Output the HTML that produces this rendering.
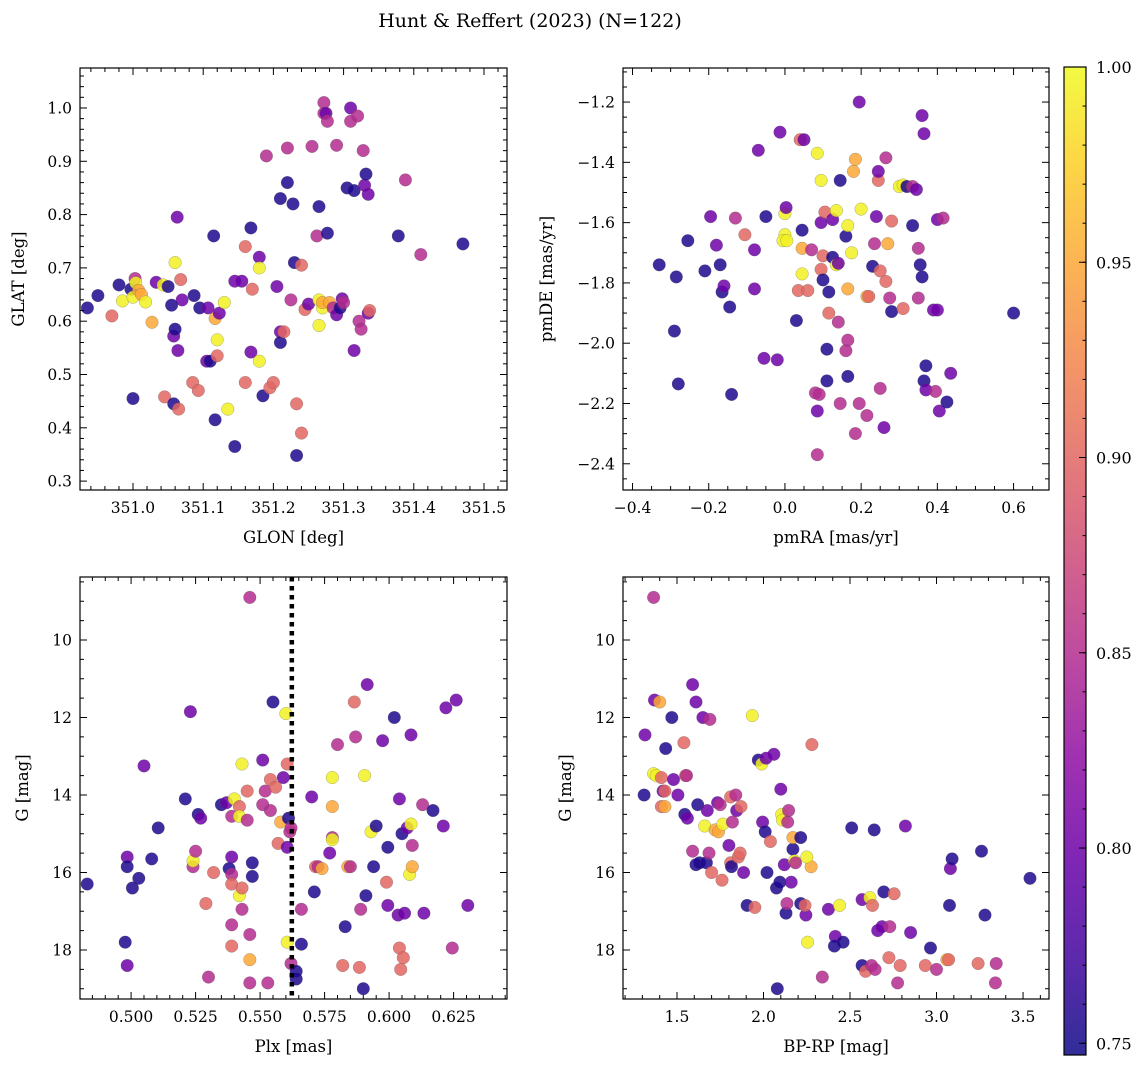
<!DOCTYPE html>
<html><head><meta charset="utf-8">
<style>
html,body{margin:0;padding:0;background:#fff;}
svg{display:block;font-family:"DejaVu Serif","Liberation Serif",serif;}
</style></head>
<body>
<svg id="fig" width="1148" height="1067" viewBox="0 0 1148 1067" xmlns="http://www.w3.org/2000/svg">
<defs>
<linearGradient id="plasma" x1="0" y1="1" x2="0" y2="0">
<stop offset="0" stop-color="#0d0887"/><stop offset="0.1" stop-color="#41049d"/><stop offset="0.2" stop-color="#6a00a8"/><stop offset="0.3" stop-color="#8f0da4"/><stop offset="0.4" stop-color="#b12a90"/><stop offset="0.5" stop-color="#cc4778"/><stop offset="0.6" stop-color="#e16462"/><stop offset="0.7" stop-color="#f2844b"/><stop offset="0.8" stop-color="#fca636"/><stop offset="0.9" stop-color="#fcce25"/><stop offset="1" stop-color="#f0f921"/>
</linearGradient>
</defs>
<text x="530" y="27" font-size="19" text-anchor="middle">Hunt &amp; Reffert (2023) (N=122)</text>
</svg>
<script>
// probability codes: 0.755 dark, 0.80 purple, 0.85 magenta, 0.90 salmon, 0.95 orange, 0.995 yellow
const D=0.755,P=0.80,M=0.85,S=0.90,O=0.95,Y=0.995;
const probMin=0.747, probMax=1.0;
const cbarTicks=[0.75,0.80,0.85,0.90,0.95,1.00];

const skyPoints=[[350.935,.625,D],[350.95,.648,D],[350.97,.61,S],[350.98,.668,D],[350.985,.638,Y],[350.997,.66,D],[351.0,.645,Y],[351.0,.455,D],[351.003,.68,M],[351.004,.672,Y],[351.008,.658,O],[351.012,.65,O],[351.018,.636,Y],[351.027,.598,O],[351.033,.673,P],[351.043,.668,Y],[351.05,.665,D],[351.058,.572,P],[351.06,.71,Y],[351.068,.678,S],[351.07,.64,P],[351.063,.795,P],[351.055,.63,D],[351.06,.585,D],[351.064,.545,P],[351.045,.458,S],[351.058,.445,D],[351.065,.435,S],[351.085,.485,S],[351.093,.47,S],[351.087,.648,D],[351.095,.625,D],[351.105,.525,P],[351.11,.525,D],[351.107,.625,P],[351.115,.76,D],[351.117,.605,O],[351.12,.565,Y],[351.12,.535,S],[351.123,.615,P],[351.13,.635,Y],[351.117,.415,D],[351.135,.435,Y],[351.145,.365,D],[351.145,.675,P],[351.155,.675,P],[351.16,.74,S],[351.16,.485,S],[351.168,.542,P],[351.168,.775,D],[351.17,.66,S],[351.18,.72,P],[351.18,.70,Y],[351.18,.525,Y],[351.185,.46,D],[351.19,.91,M],[351.195,.475,S],[351.2,.485,S],[351.205,.665,P],[351.21,.58,P],[351.21,.56,D],[351.21,.83,D],[351.215,.58,S],[351.22,.925,M],[351.22,.86,D],[351.225,.64,M],[351.228,.82,D],[351.23,.71,D],[351.233,.445,S],[351.233,.348,D],[351.24,.705,S],[351.24,.39,S],[351.245,.622,S],[351.25,.632,P],[351.255,.928,M],[351.262,.76,M],[351.265,.815,D],[351.265,.64,Y],[351.27,.625,Y],[351.27,.635,O],[351.265,.592,Y],[351.272,1.01,M],[351.272,.99,M],[351.275,.99,P],[351.277,.975,M],[351.277,.765,D],[351.28,.635,O],[351.285,.625,M],[351.29,.612,P],[351.29,.93,M],[351.295,.625,D],[351.298,.642,P],[351.3,.635,M],[351.305,.85,D],[351.31,1.0,P],[351.31,.975,M],[351.315,.845,D],[351.315,.545,P],[351.32,.985,M],[351.322,.60,M],[351.325,.585,M],[351.328,.92,M],[351.33,.855,P],[351.332,.876,D],[351.335,.838,P],[351.335,.615,P],[351.337,.62,S],[351.388,.865,M],[351.378,.76,D],[351.41,.725,M],[351.47,.745,D]];

const pmPoints=[[-0.33,-1.74,D],[-0.285,-1.78,D],[-0.29,-1.96,D],[-0.28,-2.135,D],[-0.255,-1.66,D],[-0.21,-1.76,D],[-0.195,-1.58,P],[-0.18,-1.675,P],[-0.17,-1.74,D],[-0.165,-1.83,D],[-0.16,-1.81,P],[-0.145,-1.88,D],[-0.14,-2.17,D],[-0.13,-1.585,M],[-0.105,-1.64,S],[-0.08,-1.69,P],[-0.08,-1.82,P],[-0.07,-1.36,P],[-0.055,-2.05,P],[-0.05,-1.58,D],[-0.02,-2.055,P],[-0.013,-1.30,P],[0.0,-1.64,Y],[0.0,-1.57,Y],[-0.005,-1.66,Y],[0.005,-1.66,Y],[0.003,-1.55,P],[0.03,-1.925,D],[0.035,-1.825,S],[0.04,-1.325,S],[0.045,-1.77,Y],[0.045,-1.685,O],[0.045,-1.625,D],[0.05,-1.325,P],[0.06,-1.825,S],[0.07,-1.69,M],[0.08,-2.165,M],[0.085,-1.37,Y],[0.085,-2.37,M],[0.085,-2.225,P],[0.09,-2.17,M],[0.095,-1.46,Y],[0.095,-1.755,S],[0.095,-1.6,P],[0.1,-1.79,D],[0.1,-1.71,S],[0.105,-1.565,S],[0.11,-2.02,D],[0.115,-1.83,D],[0.11,-2.125,D],[0.115,-1.9,S],[0.125,-1.59,P],[0.125,-1.715,D],[0.135,-1.56,Y],[0.135,-1.74,Y],[0.14,-1.735,P],[0.14,-1.93,M],[0.145,-2.2,M],[0.145,-1.46,D],[0.16,-1.645,D],[0.16,-2.025,M],[0.165,-1.99,M],[0.165,-2.11,D],[0.165,-1.61,Y],[0.165,-1.82,O],[0.175,-1.7,Y],[0.18,-1.43,O],[0.185,-1.39,O],[0.185,-2.3,M],[0.195,-1.2,P],[0.195,-2.2,M],[0.2,-1.555,Y],[0.215,-1.845,O],[0.215,-2.24,M],[0.22,-1.845,S],[0.23,-1.745,D],[0.235,-1.67,M],[0.245,-1.46,S],[0.245,-1.43,P],[0.24,-1.58,P],[0.25,-1.76,S],[0.25,-2.15,M],[0.26,-2.28,P],[0.265,-1.385,M],[0.265,-1.795,S],[0.27,-1.67,O],[0.275,-1.85,M],[0.28,-1.595,S],[0.28,-1.895,D],[0.3,-1.48,Y],[0.31,-1.475,Y],[0.31,-1.885,S],[0.32,-1.48,D],[0.335,-1.48,M],[0.335,-1.61,D],[0.345,-1.49,P],[0.35,-1.85,M],[0.35,-1.685,M],[0.355,-1.74,D],[0.36,-1.78,D],[0.36,-1.245,P],[0.365,-1.305,P],[0.365,-2.125,D],[0.37,-2.075,D],[0.37,-2.155,P],[0.39,-1.89,P],[0.395,-2.16,M],[0.4,-1.89,P],[0.4,-1.59,P],[0.405,-2.225,P],[0.415,-1.585,M],[0.425,-2.195,D],[0.435,-2.10,P],[0.6,-1.9,D]];

const plxPoints=[[0.483,16.3,D],[0.4977,17.8,D],[0.4985,15.6,P],[0.4985,15.85,D],[0.4985,18.4,P],[0.5005,16.4,D],[0.503,16.15,D],[0.505,13.25,P],[0.508,15.65,D],[0.5105,14.85,D],[0.523,11.85,P],[0.521,14.1,D],[0.524,15.85,M],[0.524,15.7,Y],[0.525,15.45,M],[0.526,14.5,D],[0.527,14.6,P],[0.529,16.8,S],[0.53,18.7,M],[0.532,16.0,S],[0.535,14.25,D],[0.537,14.2,P],[0.539,17.35,M],[0.539,14.55,M],[0.539,15.6,P],[0.538,15.9,D],[0.539,16.05,M],[0.539,16.3,S],[0.539,17.9,S],[0.54,14.1,Y],[0.542,16.6,Y],[0.542,14.3,S],[0.542,14.55,Y],[0.543,16.4,S],[0.543,13.2,Y],[0.543,16.95,M],[0.545,14.65,M],[0.545,13.9,S],[0.546,17.6,M],[0.546,8.9,M],[0.546,18.85,M],[0.546,18.25,O],[0.547,15.75,D],[0.547,16.1,D],[0.551,14.25,M],[0.551,13.1,P],[0.552,13.9,M],[0.553,18.85,M],[0.554,13.6,S],[0.554,14.4,M],[0.555,11.6,D],[0.556,13.8,S],[0.557,15.25,S],[0.558,14.7,O],[0.559,13.55,P],[0.56,11.9,Y],[0.5605,17.8,Y],[0.5605,13.2,S],[0.561,14.6,D],[0.5615,14.95,M],[0.5605,15.35,P],[0.562,14.85,M],[0.562,18.35,M],[0.564,18.75,D],[0.564,18.55,D],[0.566,16.95,M],[0.566,17.85,D],[0.57,14.05,P],[0.571,16.5,D],[0.5715,15.85,S],[0.5725,15.85,M],[0.574,15.9,O],[0.577,15.5,P],[0.578,15.1,M],[0.578,15.15,Y],[0.578,13.55,Y],[0.578,14.3,O],[0.58,12.7,M],[0.582,18.4,S],[0.583,17.4,D],[0.584,15.85,O],[0.585,15.85,M],[0.5865,11.6,S],[0.587,12.5,M],[0.5885,18.45,S],[0.589,16.95,M],[0.59,19.0,D],[0.5905,13.5,Y],[0.5915,11.15,P],[0.591,16.6,D],[0.593,14.95,Y],[0.594,15.85,D],[0.595,14.8,D],[0.5975,12.6,P],[0.599,16.25,S],[0.5995,15.35,D],[0.5995,16.85,P],[0.602,12.0,D],[0.6035,17.1,P],[0.604,17.95,S],[0.604,14.1,P],[0.6045,18.5,S],[0.605,15.0,D],[0.6055,18.2,S],[0.606,17.05,P],[0.607,14.85,P],[0.608,16.05,Y],[0.6085,14.75,Y],[0.609,15.3,M],[0.6085,12.45,P],[0.609,15.85,O],[0.613,14.25,M],[0.6135,17.05,P],[0.617,14.4,D],[0.621,14.8,P],[0.622,11.75,P],[0.6245,17.95,M],[0.626,11.55,P],[0.6305,16.85,P]];

const cmdPoints=[[1.31,14.0,D],[1.315,12.45,P],[1.365,8.9,M],[1.365,13.45,Y],[1.37,11.55,P],[1.38,13.5,Y],[1.40,11.6,O],[1.41,13.55,S],[1.41,14.3,S],[1.42,13.9,P],[1.43,14.3,O],[1.43,13.9,S],[1.435,12.8,D],[1.47,12.0,D],[1.48,13.6,P],[1.505,14.0,P],[1.54,12.65,S],[1.545,14.5,D],[1.56,14.6,P],[1.55,13.5,S],[1.555,13.5,M],[1.59,11.15,P],[1.59,15.45,M],[1.61,15.8,D],[1.61,11.6,P],[1.62,14.25,D],[1.63,15.75,D],[1.65,12.0,P],[1.66,14.8,Y],[1.67,15.75,D],[1.675,14.4,P],[1.685,15.5,M],[1.69,12.05,M],[1.70,16.0,S],[1.72,14.9,O],[1.735,14.2,P],[1.74,14.95,O],[1.75,14.25,M],[1.76,16.2,S],[1.765,14.75,Y],[1.80,15.3,P],[1.81,15.75,S],[1.815,15.85,D],[1.82,14.7,M],[1.81,14.05,S],[1.84,14.0,M],[1.855,15.6,S],[1.845,14.4,P],[1.865,15.5,S],[1.87,14.3,S],[1.885,16.0,P],[1.905,16.85,D],[1.935,11.95,Y],[1.95,16.9,S],[1.97,13.1,D],[1.99,13.2,Y],[1.995,14.7,P],[2.015,13.05,P],[2.01,14.95,D],[2.02,16.0,D],[2.04,15.2,S],[2.06,12.95,P],[2.075,16.4,D],[2.08,19.0,D],[2.095,16.25,D],[2.10,13.85,P],[2.105,14.5,Y],[2.11,14.65,Y],[2.12,15.8,P],[2.13,17.05,D],[2.135,16.8,M],[2.14,14.7,M],[2.145,14.4,M],[2.16,16.25,P],[2.17,15.4,D],[2.17,15.1,O],[2.18,15.7,Y],[2.185,15.75,M],[2.215,15.1,D],[2.215,16.8,D],[2.245,17.1,P],[2.24,16.85,S],[2.275,15.85,O],[2.28,12.7,S],[2.25,15.6,Y],[2.255,17.8,Y],[2.34,18.7,M],[2.415,17.65,P],[2.375,16.95,P],[2.41,17.9,D],[2.44,16.85,Y],[2.46,17.8,D],[2.51,14.85,D],[2.57,18.4,D],[2.57,16.7,P],[2.59,18.55,S],[2.615,16.65,Y],[2.625,18.4,M],[2.63,16.85,S],[2.64,14.9,D],[2.645,18.5,M],[2.66,17.5,P],[2.685,17.4,P],[2.695,16.5,D],[2.725,18.2,S],[2.73,17.4,M],[2.755,16.55,S],[2.775,18.85,M],[2.79,18.4,S],[2.82,14.8,P],[2.85,17.55,P],[2.935,18.4,S],[2.965,17.95,D],[3.0,18.5,M],[3.06,18.25,O],[3.07,18.25,S],[3.075,16.85,D],[3.08,15.9,P],[3.09,15.65,D],[3.24,18.35,S],[3.26,15.45,D],[3.28,17.1,D],[3.34,18.85,M],[3.345,18.35,M],[3.54,16.15,D]];

const NS="http://www.w3.org/2000/svg";
const svg=document.getElementById('fig');
const stops=[[0,[13,8,135]],[0.1,[65,4,157]],[0.2,[106,0,168]],[0.3,[143,13,164]],[0.4,[177,42,144]],[0.5,[204,71,120]],[0.6,[225,100,98]],[0.7,[242,132,75]],[0.8,[252,166,54]],[0.9,[252,206,37]],[1,[240,249,33]]];
function plasma(v){let t=(v-probMin)/(probMax-probMin);t=Math.max(0,Math.min(1,t));
 for(let i=1;i<stops.length;i++){if(t<=stops[i][0]){const a=stops[i-1],b=stops[i];const f=(t-a[0])/(b[0]-a[0]);
 const c=a[1].map((x,k)=>Math.round(x+(b[1][k]-x)*f));return `rgb(${c[0]},${c[1]},${c[2]})`;}}return 'rgb(240,249,33)';}
function el(tag,attrs,parent){const e=document.createElementNS(NS,tag);for(const k in attrs)e.setAttribute(k,attrs[k]);(parent||svg).appendChild(e);return e;}
function fmt(v,d){const s=v.toFixed(d);return s.startsWith('-')?'\u2212'+s.slice(1):s;}

function panel(o){
 const g=el('g',{});
 
 
 const sx=v=>o.x0+(v-o.xmin)/(o.xmax-o.xmin)*(o.x1-o.x0);
 const sy=o.invert?(v=>o.y0+(v-o.ymin)/(o.ymax-o.ymin)*(o.y1-o.y0)):(v=>o.y1-(v-o.ymin)/(o.ymax-o.ymin)*(o.y1-o.y0));
 const pts=el('g',{},g);
 
 
 o.data.forEach(d=>{const c=el('circle',{cx:sx(d[0]).toFixed(1),cy:sy(d[1]).toFixed(1),r:6.3,fill:plasma(d[2]),'fill-opacity':0.85,stroke:'#555','stroke-width':0.4,'stroke-opacity':0.6},pts);
  
  });
 if(o.vline!==undefined){const l=el('line',{x1:sx(o.vline),x2:sx(o.vline),y1:o.y0,y2:o.y1,stroke:'#000','stroke-width':4.5,'stroke-dasharray':'4.5,4.5'},g);
  
  }
 const fr=el('rect',{x:o.x0,y:o.y0,width:o.x1-o.x0,height:o.y1-o.y0,fill:'none',stroke:'#000','stroke-width':1.2},g);
 
 
 const eps=1e-9;
 // x ticks
 for(let v=Math.ceil(o.xmin/o.xminor-eps)*o.xminor;v<=o.xmax+eps;v+=o.xminor){
  const isMaj=Math.abs(v/o.xmajor-Math.round(v/o.xmajor))<1e-6;const L=isMaj?7:4;const x=sx(v);
  el('line',{x1:x,x2:x,y1:o.y1,y2:o.y1-L,stroke:'#000','stroke-width':1},g);
  el('line',{x1:x,x2:x,y1:o.y0,y2:o.y0+L,stroke:'#000','stroke-width':1},g);
  if(isMaj){const t=el('text',{x:x,y:o.y1+23,'font-size':15.5,'text-anchor':'middle'},g);t.textContent=fmt(Math.round(v/o.xmajor)*o.xmajor,o.xdec);
   
   }
 }
 for(let v=Math.ceil(o.ymin/o.yminor-eps)*o.yminor;v<=o.ymax+eps;v+=o.yminor){
  const isMaj=Math.abs(v/o.ymajor-Math.round(v/o.ymajor))<1e-6;const L=isMaj?7:4;const y=sy(v);
  el('line',{x1:o.x0,x2:o.x0+L,y1:y,y2:y,stroke:'#000','stroke-width':1},g);
  el('line',{x1:o.x1,x2:o.x1-L,y1:y,y2:y,stroke:'#000','stroke-width':1},g);
  if(isMaj){const t=el('text',{x:o.x0-8,y:y+5.5,'font-size':15.5,'text-anchor':'end'},g);t.textContent=fmt(Math.round(v/o.ymajor)*o.ymajor,o.ydec);
   
   }
 }
 const xl=el('text',{x:(o.x0+o.x1)/2,y:o.y1+53,'font-size':16.5,'text-anchor':'middle'},g);xl.textContent=o.xlabel;
 
 
 const yx=o.ylx,yy=(o.y0+o.y1)/2;
 const yl=el('text',{x:yx,y:yy,'font-size':16.5,'text-anchor':'middle',transform:`rotate(-90 ${yx} ${yy})`},g);yl.textContent=o.ylabel;
 
 
}

panel({name:'sky-position-panel',data:skyPoints,x0:80,x1:507,y0:68,y1:490,xmin:350.9245,xmax:351.5328,ymin:0.2833,ymax:1.075,xmajor:0.1,xminor:0.02,ymajor:0.1,yminor:0.02,xdec:1,ydec:1,xlabel:'GLON [deg]',ylabel:'GLAT [deg]',ylx:24});
panel({name:'proper-motion-panel',data:pmPoints,x0:623,x1:1049,y0:68,y1:490,xmin:-0.425,xmax:0.693,ymin:-2.487,ymax:-1.087,xmajor:0.2,xminor:0.05,ymajor:0.2,yminor:0.05,xdec:1,ydec:1,xlabel:'pmRA [mas/yr]',ylabel:'pmDE [mas/yr]',ylx:552});
panel({name:'parallax-magnitude-panel',data:plxPoints,x0:80,x1:507,y0:577,y1:999,xmin:0.4802,xmax:0.6457,ymin:8.374,ymax:19.265,invert:true,xmajor:0.025,xminor:0.005,ymajor:2,yminor:0.5,xdec:3,ydec:0,xlabel:'Plx [mas]',ylabel:'G [mag]',ylx:28,vline:0.5623});
panel({name:'color-magnitude-panel',data:cmdPoints,x0:623,x1:1049,y0:577,y1:999,xmin:1.188,xmax:3.65,ymin:8.374,ymax:19.265,invert:true,xmajor:0.5,xminor:0.1,ymajor:2,yminor:0.5,xdec:1,ydec:0,xlabel:'BP-RP [mag]',ylabel:'G [mag]',ylx:571});

// colorbar
const cb=el('g',{});


const cbx0=1064,cbx1=1086,cby0=67,cby1=1055;
const bar=el('rect',{x:cbx0,y:cby0,width:cbx1-cbx0,height:cby1-cby0,fill:'url(#plasma)','fill-opacity':0.85},cb);


el('rect',{x:cbx0,y:cby0,width:cbx1-cbx0,height:cby1-cby0,fill:'none',stroke:'#000','stroke-width':1.2},cb);
const cy=v=>cby1-(v-probMin)/(probMax-probMin)*(cby1-cby0);
for(let v=0.75;v<=1.0001;v+=0.01){el('line',{x1:cbx1,x2:cbx1-3.5,y1:cy(v),y2:cy(v),stroke:'#000','stroke-width':1},cb);}
cbarTicks.forEach(v=>{el('line',{x1:cbx1,x2:cbx1-7,y1:cy(v),y2:cy(v),stroke:'#000','stroke-width':1},cb);
 const t=el('text',{x:1096,y:cy(v)+6,'font-size':16},cb);t.textContent=v.toFixed(2);
 
 });
</script>
</body></html>
